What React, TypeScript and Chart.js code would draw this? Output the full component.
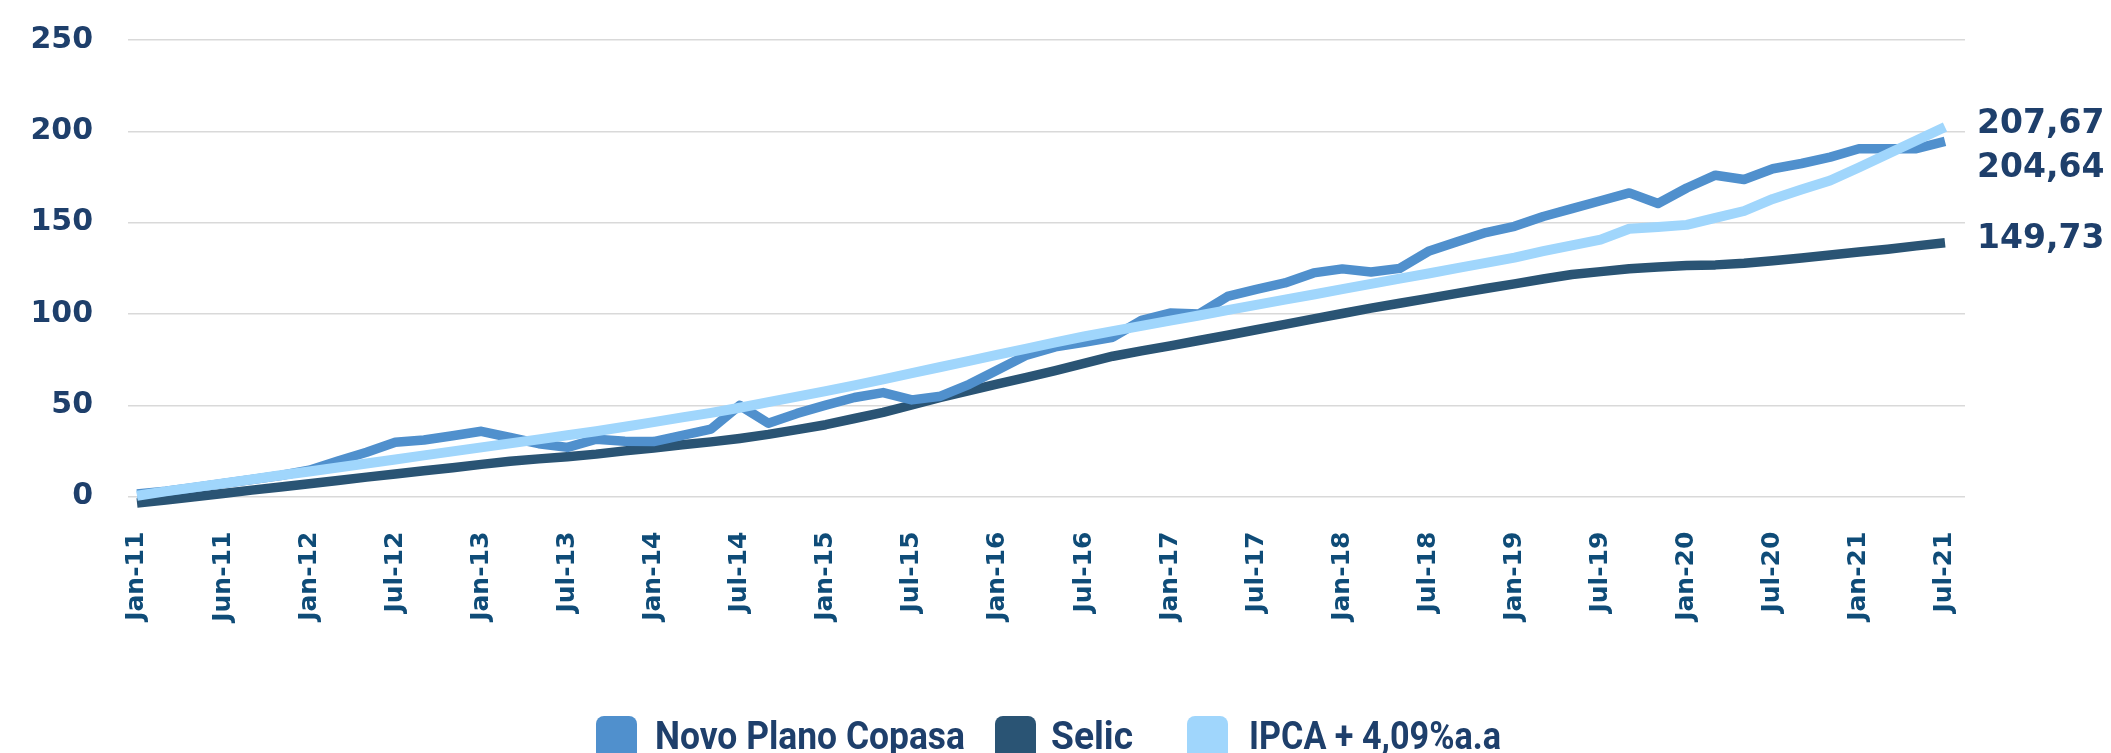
import React, { useEffect, useRef } from "react";
import { Chart, registerables } from "chart.js";

Chart.register(...registerables);

// ---------- DATA ----------
const TICK_LABELS = [
  "Jan-11", "Jun-11", "Jan-12", "Jul-12", "Jan-13", "Jul-13", "Jan-14", "Jul-14",
  "Jan-15", "Jul-15", "Jan-16", "Jul-16", "Jan-17", "Jul-17", "Jan-18", "Jul-18",
  "Jan-19", "Jul-19", "Jan-20", "Jul-20", "Jan-21", "Jul-21",
];
// month index (from Jan-11) where each tick label sits
const TICK_MONTHS = [0, 6, 12, 18, 24, 30, 36, 42, 48, 54, 60, 66, 72, 78, 84, 90, 96, 102, 108, 114, 120, 126];
const Y_TICKS = [0, 50, 100, 150, 200, 250];

const SERIES_NAMES = ["Novo Plano Copasa", "Selic", "IPCA + 4,09%a.a"];
// one value every 2 months, starting Jan-11
const MONTH_STEP = 2;

const NOVO = [
  1.5, 3, 5, 7.2, 9.4, 11.6, 14.5, 19.5, 24.3, 29.8, 31, 33.4, 35.8, 32.4, 29, 27,
  31.5, 30.3, 30.2, 33.6, 37, 50, 40.2, 45.6, 50.1, 54.3, 57, 53, 55, 61.5, 69.5, 77.5,
  82, 84.5, 87.3, 96.5, 100.5, 100, 109.6, 113.5, 117, 122.5, 124.7, 123, 125, 134.3, 139.5, 144.6,
  148, 153.4, 157.7, 162, 166.3, 160.5, 169, 176, 173.6, 179.5, 182.4, 185.9, 190.5, 190.5, 190.5, 194.5,
];
const SELIC = [
  -3.5, -1.8, 0, 1.8, 3.6, 5.3, 7.1, 8.9, 10.7, 12.4, 14.2, 15.9, 17.7, 19.4, 20.7, 21.9,
  23.3, 25.1, 26.7, 28.4, 30, 31.9, 34.1, 36.7, 39.4, 42.8, 46.2, 50.2, 54.3, 58.1, 61.7, 65.3,
  69, 73, 76.9, 79.8, 82.6, 85.5, 88.4, 91.4, 94.3, 97.3, 100.3, 103.2, 105.9, 108.6, 111.3, 114,
  116.5, 119.2, 121.6, 123.2, 124.8, 125.7, 126.6, 126.9, 127.8, 129.2, 130.7, 132.3, 133.9, 135.5, 137.3, 139,
];
const IPCA = [
  0.5, 2.9, 5.1, 7.3, 9.5, 11.7, 13.8, 16, 18.2, 20.4, 22.6, 24.8, 27, 29.2, 31.4, 33.6,
  35.8, 38.3, 40.8, 43.4, 45.9, 48.7, 51.8, 54.8, 57.8, 60.9, 64.2, 67.6, 71, 74.4, 77.8, 81.1,
  84.5, 87.7, 90.6, 93.5, 96.4, 99.2, 102.1, 105, 107.9, 110.7, 113.6, 116.5, 119.4, 122.2, 125.1, 128,
  130.9, 134.4, 137.6, 140.7, 146.7, 147.6, 148.8, 152.6, 156.4, 163, 168.1, 173.1, 180.2, 187.6, 195, 202.4,
];
const END_LABELS = ["204,64", "149,73", "207,67"];

// ---------- STYLE ----------
const COLORS = ["#5090cd", "#2a5474", "#a0d6fc"];
const NAVY = "#1e3f6b";
const NUM_FONT = '"DejaVu Sans", Verdana, sans-serif';
const LEGEND_FONT = 'Roboto, "Noto Sans", sans-serif';
const END_LABEL_X = 1977;
const END_LABEL_DY = [27, -3, -3];
const LEGEND_BOX_X = [596, 995, 1187];
const LEGEND_TEXT_X = [655, 1051, 1249];
const LEGEND_TEXT_W = [310, 82, 252];

const toPoints = (arr: number[]) => arr.map((y, i) => ({ x: i * MONTH_STEP, y }));

const endLabelsPlugin = {
  id: "endLabels",
  afterDatasetsDraw(chart: any) {
    const ctx = chart.ctx;
    ctx.save();
    ctx.font = `bold 33px ${NUM_FONT}`;
    ctx.fillStyle = NAVY;
    ctx.textAlign = "left";
    ctx.textBaseline = "middle";
    chart.data.datasets.forEach((_ds: any, i: number) => {
      const meta = chart.getDatasetMeta(i);
      const last = meta.data[meta.data.length - 1];
      ctx.fillText(END_LABELS[i], END_LABEL_X, last.y + END_LABEL_DY[i]);
    });
    ctx.restore();
  },
};

const legendPlugin = {
  id: "customLegend",
  afterDraw(chart: any) {
    const ctx = chart.ctx;
    chart.data.datasets.forEach((ds: any, i: number) => {
      ctx.save();
      ctx.fillStyle = ds.borderColor;
      ctx.beginPath();
      (ctx as any).roundRect(LEGEND_BOX_X[i], 716, 41, 48, 8);
      ctx.fill();
      ctx.fillStyle = NAVY;
      ctx.font = `bold 38px ${LEGEND_FONT}`;
      ctx.textAlign = "left";
      ctx.textBaseline = "alphabetic";
      const w = ctx.measureText(ds.label).width;
      const sx = LEGEND_TEXT_W[i] / w;
      ctx.translate(LEGEND_TEXT_X[i], 749);
      ctx.scale(sx, 1);
      ctx.fillText(ds.label, 0, 0);
      ctx.restore();
    });
  },
};

export default function App() {
  const canvasRef = useRef<HTMLCanvasElement | null>(null);

  useEffect(() => {
    document.body.style.margin = "0";
    const canvas = canvasRef.current;
    if (!canvas) return;
    const datasets = [NOVO, SELIC, IPCA].map((arr, i) => ({
      label: SERIES_NAMES[i],
      data: toPoints(arr),
      borderColor: COLORS[i],
      backgroundColor: COLORS[i],
      borderWidth: i === 2 ? 10 : 9.5,
      pointRadius: 0,
      tension: 0,
      clip: false as any,
      borderJoinStyle: "round" as const,
      order: [1, 2, 0][i],
    }));
    const chart = new Chart(canvas, {
      type: "line",
      data: { datasets },
      options: {
        responsive: false,
        maintainAspectRatio: false,
        animation: false,
        layout: { padding: { top: 40, right: 146, left: 0, bottom: 0 } },
        plugins: { legend: { display: false }, tooltip: { enabled: false } },
        scales: {
          x: {
            type: "linear",
            min: -0.627,
            max: 127.394,
            grid: { display: false, drawTicks: false },
            border: { display: false },
            afterBuildTicks: (s: any) => {
              s.ticks = TICK_MONTHS.map((v) => ({ value: v }));
            },
            afterFit: (s: any) => {
              s.height = 256.3;
              s.paddingLeft = 0;
              s.paddingRight = 0;
            },
            ticks: {
              autoSkip: false,
              minRotation: 90,
              maxRotation: 90,
              padding: 35,
              color: "#0f4c78",
              font: { family: NUM_FONT, weight: "bold", size: 25 },
              callback: (_v: any, i: number) => TICK_LABELS[i],
            },
          },
          y: {
            min: 0,
            max: 250,
            afterBuildTicks: (s: any) => {
              s.ticks = Y_TICKS.map((v) => ({ value: v }));
            },
            afterFit: (s: any) => {
              s.width = 128;
              s.paddingTop = 0;
              s.paddingBottom = 0;
            },
            grid: { color: "#d9d9d9", lineWidth: 1.5, drawTicks: false },
            border: { display: false },
            ticks: {
              padding: 35,
              color: NAVY,
              font: { family: NUM_FONT, weight: "bold", size: 30 },
            },
          },
        },
      },
      plugins: [endLabelsPlugin, legendPlugin],
    });
    return () => chart.destroy();
  }, []);

  return (
    <div style={{ width: 2111, height: 753, position: "relative", background: "#fff" }}>
      <canvas ref={canvasRef} width={2111} height={753} style={{ display: "block" }} />
    </div>
  );
}
